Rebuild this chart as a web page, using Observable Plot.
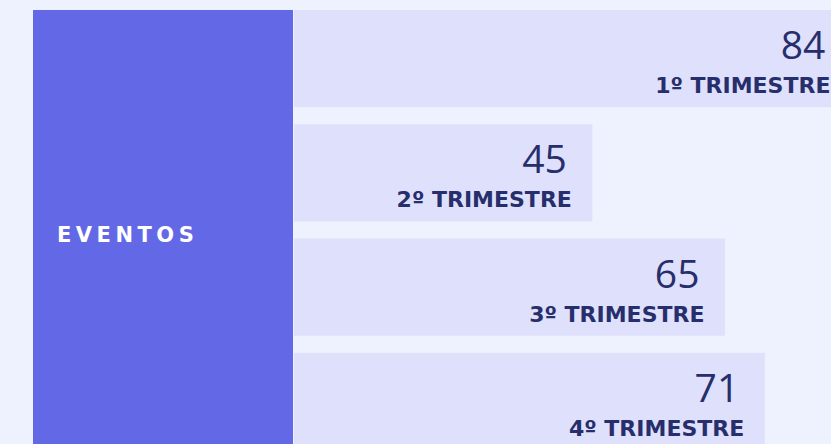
<!DOCTYPE html>
<html>
<head>
<meta charset="utf-8">
<script src="https://cdn.jsdelivr.net/npm/d3@7"></script>
<script src="https://cdn.jsdelivr.net/npm/@observablehq/plot@0.6"></script>
<style>
  html, body { margin: 0; padding: 0; width: 831px; height: 444px; overflow: hidden; background: #eef1fe; }
  #panel { position: absolute; left: 33px; top: 10px; width: 260px; height: 440px; background: #6368e6; }
  #panel span { position: absolute; left: 24px; top: 215px; font-family: "DejaVu Sans", sans-serif; font-weight: 700; font-size: 21px; line-height: 20px; letter-spacing: 4.5px; color: #ffffff; white-space: nowrap; }
  #chart { position: absolute; left: 294px; top: 0; }
  #chart svg { background: transparent; }
</style>
</head>
<body>
<div id="panel"><span id="panelLabel"></span></div>
<div id="chart"></div>
<script>
const panelLabel = "EVENTOS";
const quarters = ["1º TRIMESTRE", "2º TRIMESTRE", "3º TRIMESTRE", "4º TRIMESTRE"];
const eventos = [84, 45, 65, 71];

const data = quarters.map((q, i) => ({label: q, value: eventos[i]}));
document.getElementById("panelLabel").textContent = panelLabel;

const ink = "#272e6c";
const plot = Plot.plot({
  width: 537,
  height: 444,
  margin: 0,
  style: {background: "transparent", fontFamily: "Open Sans, sans-serif"},
  x: {domain: [0, 84], range: [0, 84 * 6.63], axis: null},
  y: {domain: quarters, range: [10, 450], paddingInner: 0.15, paddingOuter: 0, round: false, axis: null},
  marks: [
    Plot.barX(data, {x: "value", y: "label", fill: "#dfe0fb"}),
    Plot.text(data, {x: "value", y: "label", text: d => String(d.value), textAnchor: "end", lineAnchor: "bottom", dx: -26, fontSize: 39, fontWeight: 400, fontFamily: "Open Sans, sans-serif", fill: ink}),
    Plot.text(data, {x: "value", y: "label", text: "label", textAnchor: "end", lineAnchor: "bottom", dx: -21, dy: 34, fontSize: 22, fontWeight: 700, fontFamily: "DejaVu Sans, sans-serif", fill: ink})
  ]
});
document.getElementById("chart").appendChild(plot);
</script>
</body>
</html>
